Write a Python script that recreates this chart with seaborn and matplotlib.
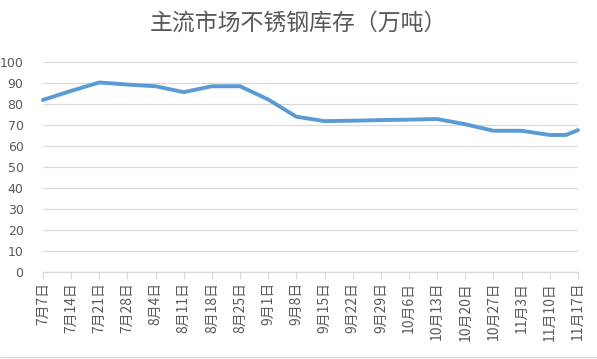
import matplotlib
matplotlib.use("Agg")
import matplotlib.pyplot as plt
from matplotlib.lines import Line2D
import seaborn as sns
import pandas as pd

dates = ["2020-07-07", "2020-07-14", "2020-07-21", "2020-07-28", "2020-08-04",
         "2020-08-11", "2020-08-18", "2020-08-25", "2020-09-01", "2020-09-08",
         "2020-09-15", "2020-09-22", "2020-09-29", "2020-10-06", "2020-10-13",
         "2020-10-20", "2020-10-27", "2020-11-03", "2020-11-10", "2020-11-14",
         "2020-11-17"]
values = [82.0, 86.3, 90.3, 89.3, 88.5, 85.7, 88.5, 88.5, 82.2, 74.0,
          71.9, 72.1, 72.4, 72.6, 72.9, 70.4, 67.3, 67.3, 65.3, 65.3, 67.6]
tick_dates = ["2020-07-07", "2020-07-14", "2020-07-21", "2020-07-28", "2020-08-04",
              "2020-08-11", "2020-08-18", "2020-08-25", "2020-09-01", "2020-09-08",
              "2020-09-15", "2020-09-22", "2020-09-29", "2020-10-06", "2020-10-13",
              "2020-10-20", "2020-10-27", "2020-11-03", "2020-11-10", "2020-11-17"]
tick_labels = ["7月7日", "7月14日", "7月21日", "7月28日", "8月4日", "8月11日",
               "8月18日", "8月25日", "9月1日", "9月8日", "9月15日", "9月22日",
               "9月29日", "10月6日", "10月13日", "10月20日", "10月27日", "11月3日",
               "11月10日", "11月17日"]
y_ticks = [0, 10, 20, 30, 40, 50, 60, 70, 80, 90, 100]
title = "主流市场不锈钢库存（万吨）"

sns.set_theme(style="white")
plt.rcParams['font.family'] = ['Noto Sans CJK SC', 'DejaVu Sans']

df = pd.DataFrame({"date": pd.to_datetime(dates), "value": values})

fig = plt.figure(figsize=(5.97, 3.59), dpi=100)
ax = fig.add_axes([0.072, 0.242, 0.896, 0.585])

sns.lineplot(data=df, x="date", y="value", ax=ax, color="#5b9bd5",
             linewidth=2.8, solid_capstyle="round", solid_joinstyle="round")
for ln in ax.get_lines():
    ln.set_clip_on(False)

ax.set_ylim(0, 100)
ax.set_yticks(y_ticks)
ax.set_yticklabels([str(v) for v in y_ticks], fontsize=9, color="#595959",
                   family=['DejaVu Sans'])
td = pd.to_datetime(tick_dates)
ax.set_xlim(td[0], td[-1])
ax.set_xticks(td)
ax.set_xticklabels(tick_labels, rotation=90, fontsize=10, color="#595959",
                   va="top", ha="center")
ax.set_xlabel("")
ax.set_ylabel("")

ax.grid(axis="y", color="#d9d9d9", linewidth=0.9)
ax.grid(axis="x", visible=False)
for s in ["top", "right", "left"]:
    ax.spines[s].set_visible(False)
ax.spines["bottom"].set_color("#d9d9d9")
ax.spines["bottom"].set_linewidth(0.9)
ax.tick_params(axis="x", which="major", bottom=True, length=5, width=0.9,
               color="#d9d9d9", pad=2)
ax.tick_params(axis="y", left=False, pad=8)
ax.set_axisbelow(True)

fig.text(0.5, 0.935, title, ha="center", va="center", fontsize=16.5,
         color="#595959", fontweight="light")
fig.add_artist(Line2D([0, 1], [0.005, 0.005], transform=fig.transFigure,
                      color="#d9d9d9", linewidth=1))

fig.savefig("out.png", dpi=100, facecolor="white")
